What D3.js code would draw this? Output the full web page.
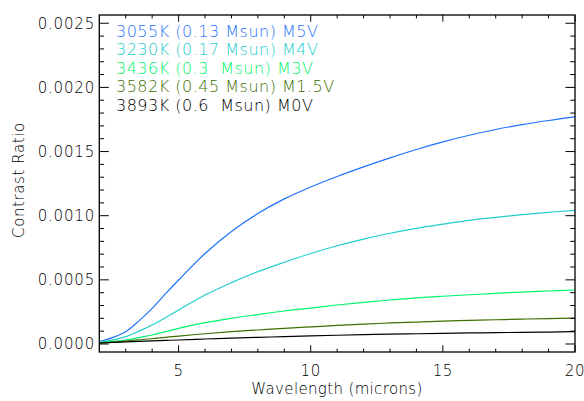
<!DOCTYPE html>
<html>
<head>
<meta charset="utf-8">
<script src="https://cdn.jsdelivr.net/npm/d3@7"></script>
<style>
  body { margin: 0; background: #fff; }
  svg { display: block; font-family: "DejaVu Sans", sans-serif; font-weight: 200; }
</style>
</head>
<body>
<svg id="chart" width="584" height="401"></svg>
<script>
// wavelength grid (microns)
var wavelength = [2, 2.5, 3, 3.5, 4, 4.5, 5, 6, 7, 8, 9, 10, 11, 12, 13, 14, 15, 16, 17, 18, 19, 20];

var m5v = [0.000018, 0.00005, 0.000096, 0.00018, 0.000278, 0.00039, 0.000499, 0.000705, 0.000877, 0.001017,
  0.001131, 0.001224, 0.001306, 0.001381, 0.001451, 0.001516, 0.001575, 0.001627, 0.001672, 0.00171, 0.001742, 0.00177];
var m4v = [0.000015, 0.00003, 0.000057, 0.0001, 0.000148, 0.000205, 0.000265, 0.000382, 0.000478, 0.000564,
  0.000637, 0.000705, 0.000766, 0.000818, 0.000863, 0.000901, 0.000934, 0.000964, 0.000987, 0.001008, 0.001026, 0.001042];
var m3v = [0.00001, 0.00002, 0.000031, 0.00005, 0.00007, 0.000096, 0.000122, 0.000166, 0.0002, 0.000229,
  0.000257, 0.00028, 0.000304, 0.000325, 0.000343, 0.000359, 0.000372, 0.000384, 0.000395, 0.000405, 0.000413, 0.000421];
var m15v = [0.000008, 0.000015, 0.000023, 0.000032, 0.000041, 0.000052, 0.000062, 0.00008, 0.000096, 0.000109,
  0.000122, 0.000133, 0.000145, 0.000155, 0.000164, 0.000171, 0.000178, 0.000184, 0.000189, 0.000194, 0.000198, 0.000202];
var m0v = [0.000006, 0.000012, 0.000017, 0.00002, 0.000024, 0.000028, 0.000031, 0.000039, 0.000046, 0.000052,
  0.000057, 0.000063, 0.000068, 0.000073, 0.000077, 0.00008, 0.000083, 0.000086, 0.000088, 0.000091, 0.000093, 0.000096];

var seriesLabels = ["3055K (0.13 Msun) M5V", "3230K (0.17 Msun) M4V", "3436K (0.3  Msun) M3V",
  "3582K (0.45 Msun) M1.5V", "3893K (0.6  Msun) M0V"];
var seriesColors = ["#1f72ff", "#22cdcd", "#00f46c", "#3d6e00", "#000000"];
var seriesValues = [m5v, m4v, m3v, m15v, m0v];

var xTicks = [5, 10, 15, 20];
var yTicks = [0, 0.0005, 0.001, 0.0015, 0.002, 0.0025];
var xDomain = [2, 20];
var yDomain = [-0.0000624, 0.0025643];

(function() {
  var svg = d3.select("#chart");
  var pl = 99.3, pr = 575, pt = 15, pb = 352;

  var x = d3.scaleLinear().domain(xDomain).range([pl, pr]);
  var y = d3.scaleLinear().domain(yDomain).range([pb, pt]);

  // curves
  var line = d3.line()
    .x(function(d) { return x(d[0]); })
    .y(function(d) { return y(d[1]); })
    .curve(d3.curveCatmullRom.alpha(0.5));

  seriesValues.forEach(function(vals, i) {
    svg.append("path")
      .datum(d3.zip(wavelength, vals))
      .attr("fill", "none")
      .attr("stroke", seriesColors[i])
      .attr("stroke-width", 1.2)
      .attr("d", line);
  });

  // ticks, IDL style: inward, on all four sides
  var xMinor = d3.range(3, 20, 1).filter(function(v) { return xTicks.indexOf(v) < 0; });
  var yMinor = d3.range(1, 26).map(function(v) { return v * 0.0001; })
    .filter(function(v) { return yTicks.every(function(t) { return Math.abs(t - v) > 1e-9; }); });

  var tk = svg.append("g").attr("stroke", "#000").attr("stroke-width", 1);

  function xTick(v, len) {
    tk.append("line").attr("x1", x(v)).attr("x2", x(v)).attr("y1", pb).attr("y2", pb - len);
    tk.append("line").attr("x1", x(v)).attr("x2", x(v)).attr("y1", pt).attr("y2", pt + len);
  }
  function yTick(v, len) {
    tk.append("line").attr("y1", y(v)).attr("y2", y(v)).attr("x1", pl).attr("x2", pl + len);
    tk.append("line").attr("y1", y(v)).attr("y2", y(v)).attr("x1", pr).attr("x2", pr - len);
  }
  xTicks.forEach(function(v) { xTick(v, 6.7); });
  xMinor.forEach(function(v) { xTick(v, 3.4); });
  yTicks.forEach(function(v) { yTick(v, 9.5); });
  yMinor.forEach(function(v) { yTick(v, 4.8); });

  svg.append("rect")
    .attr("x", pl).attr("y", pt)
    .attr("width", pr - pl).attr("height", pb - pt)
    .attr("fill", "none").attr("stroke", "#000").attr("stroke-width", 1.3);

  // tick labels
  svg.append("g").selectAll("text").data(xTicks).enter().append("text")
    .attr("x", function(d) { return x(d); })
    .attr("y", 376)
    .attr("text-anchor", "middle")
    .attr("font-size", 15)
    .attr("letter-spacing", 0.6)
    .text(function(d) { return d; });

  svg.append("g").selectAll("text").data(yTicks).enter().append("text")
    .attr("x", 95)
    .attr("y", function(d) { return y(d) + 5.5; })
    .attr("text-anchor", "end")
    .attr("font-size", 15)
    .attr("letter-spacing", 0.8)
    .text(function(d) { return d3.format(".4f")(d); });

  // axis titles
  svg.append("text")
    .attr("x", 337).attr("y", 394)
    .attr("text-anchor", "middle")
    .attr("font-size", 15)
    .attr("letter-spacing", 0.35)
    .text("Wavelength (microns)");

  svg.append("text")
    .attr("transform", "translate(24,180) rotate(-90)")
    .attr("text-anchor", "middle")
    .attr("font-size", 15)
    .attr("letter-spacing", 0.6)
    .text("Contrast Ratio");

  // legend
  svg.append("g").selectAll("text").data(seriesLabels).enter().append("text")
    .attr("x", 116)
    .attr("y", function(d, i) { return 36.5 + i * 18.5; })
    .attr("font-size", 16)
    .attr("letter-spacing", 0.5)
    .style("white-space", "pre")
    .attr("fill", function(d, i) { return seriesColors[i]; })
    .text(function(d) { return d; });
})();
</script>
</body>
</html>
